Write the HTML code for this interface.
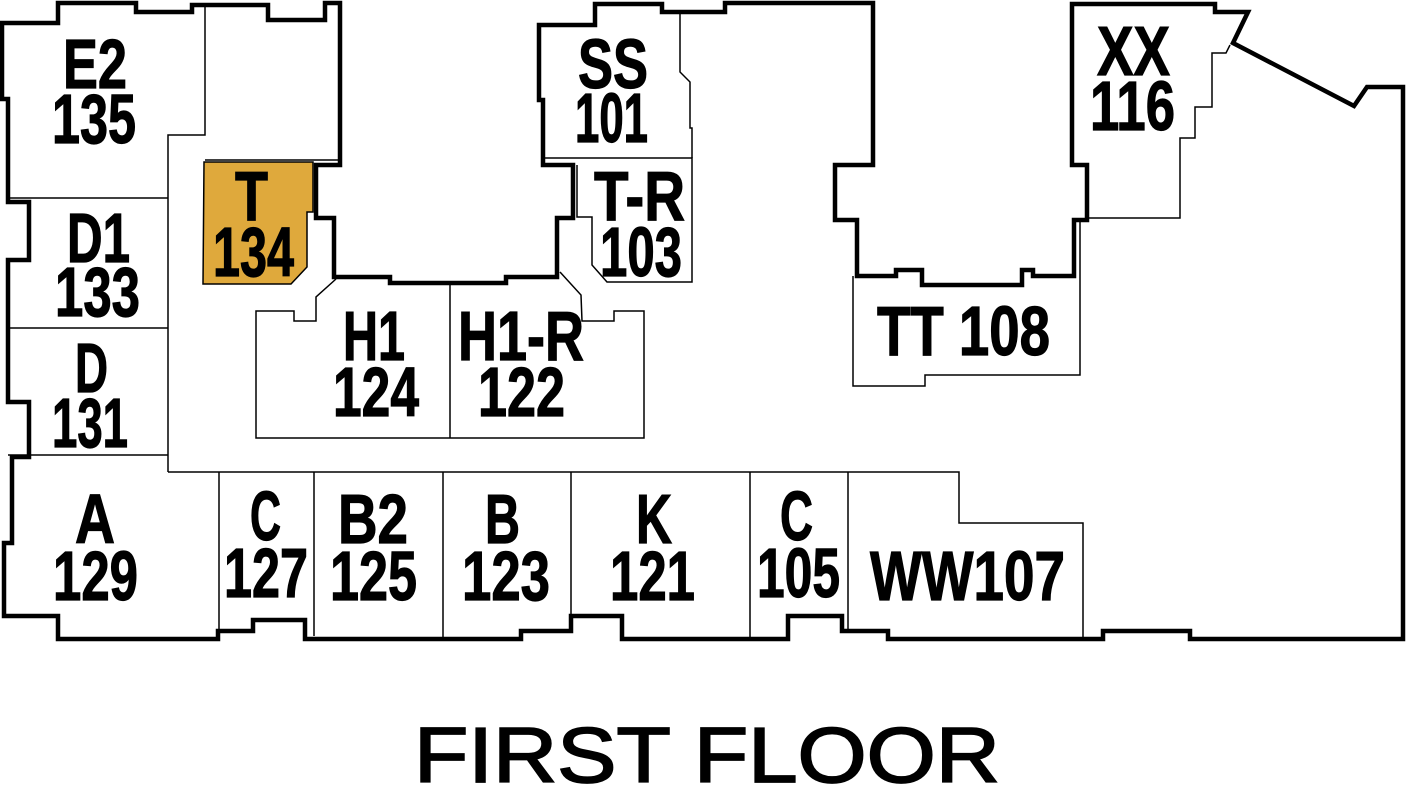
<!DOCTYPE html>
<html><head><meta charset="utf-8"><style>
html,body{margin:0;padding:0;background:#fff;}
svg{display:block;}
.l{font-family:"Liberation Sans",sans-serif;font-weight:bold;font-size:70px;fill:#000;stroke:#000;stroke-width:1.2;}
</style></head><body>
<svg width="1407" height="805" viewBox="0 0 1407 805" xmlns="http://www.w3.org/2000/svg">
<polygon points="204,162 313,162 313,212 307,212 307,267 291,284 203,284" fill="#dfa93c" stroke="#000" stroke-width="1.5"/>
<g fill="none" stroke="#000" stroke-width="1.5">
<polyline points="8,198 168,198"/>
<polyline points="8,328 168,328"/>
<polyline points="8,455 168,455"/>
<polyline points="168,472 168,135 205,135 205,5"/>
<polyline points="205,160 338,160"/>
<polyline points="168,472 959,472 959,523 1083,523 1083,639"/>
<line x1="219" y1="472" x2="219" y2="631"/>
<line x1="314" y1="472" x2="314" y2="636"/>
<line x1="443" y1="472" x2="443" y2="639"/>
<line x1="571" y1="472" x2="571" y2="616"/>
<line x1="750" y1="472" x2="750" y2="639"/>
<line x1="848" y1="472" x2="848" y2="631"/>
<polyline points="336,279 316,297 316,321 294,321 294,311 256,311 256,438 644,438 644,311 614,311 614,321 582,321 581,295 560,272"/>
<line x1="450" y1="285" x2="450" y2="438"/>
<polyline points="543,158 692,158 692,282 607,282 592,265 592,217 577,217 577,165"/>
<polyline points="680,12 680,72 690,82 690,128 692,128 692,158"/>
<polyline points="1230,45 1226,53 1212,53 1212,107 1195,107 1195,138 1180,138 1180,218 1087,218"/>
<polyline points="853,276 853,386 925,386 925,375 1080,375 1080,220"/>
</g>
<polygon fill="none" stroke="#000" stroke-width="4.5" stroke-linejoin="miter" points="
58,3 136,3 136,12 192,12 192,5 268,5 268,20 325,20 325,3 340,3 340,165 316,165 316,218 334,218 334,277 390,277 390,283 506,283 506,277 557,277 557,218 573,218 573,165 543,165 543,100 539,100 539,25 595,25 595,4 662,4 662,12 725,12 725,3 873,3 873,165 835,165 835,220 857,220 857,276 896,276 896,270 922,270 922,285 1022,285 1022,270 1033,270 1033,276 1074,276 1074,220 1087,220 1087,165 1072,165 1072,4 1215,4 1215,12 1248,12 1233,43 1354,106 1367,87 1403,87 1403,639 1190,639 1190,631 1103,631 1103,639 888,639 888,631 842,631 842,616 788,616 788,639 622,639 622,616 571,616 571,631 521,631 521,639 305,639 305,620 253,620 253,631 218,631 218,639 58,639 58,616 4,616 4,543 12,543 12,457 29,457 29,402 8,402 8,260 29,260 29,202 8,202 8,99 2,99 2,23 58,23"/>
<g class="l">
<text x="63" y="88" textLength="64" lengthAdjust="spacingAndGlyphs">E2</text>
<text x="52" y="143" textLength="84" lengthAdjust="spacingAndGlyphs">135</text>
<text x="67" y="262" textLength="63" lengthAdjust="spacingAndGlyphs">D1</text>
<text x="55" y="316" textLength="85" lengthAdjust="spacingAndGlyphs">133</text>
<text x="75" y="392" textLength="33" lengthAdjust="spacingAndGlyphs">D</text>
<text x="52" y="447" textLength="76" lengthAdjust="spacingAndGlyphs">131</text>
<text x="235" y="220" textLength="33" lengthAdjust="spacingAndGlyphs">T</text>
<text x="213" y="276" textLength="81" lengthAdjust="spacingAndGlyphs">134</text>
<text x="578" y="88" textLength="70" lengthAdjust="spacingAndGlyphs">SS</text>
<text x="575" y="142" textLength="73" lengthAdjust="spacingAndGlyphs">101</text>
<text x="594" y="220" textLength="91" lengthAdjust="spacingAndGlyphs">T-R</text>
<text x="600" y="276" textLength="82" lengthAdjust="spacingAndGlyphs">103</text>
<text x="343" y="360" textLength="62" lengthAdjust="spacingAndGlyphs">H1</text>
<text x="333" y="416" textLength="86" lengthAdjust="spacingAndGlyphs">124</text>
<text x="458" y="360" textLength="126" lengthAdjust="spacingAndGlyphs">H1-R</text>
<text x="478" y="416" textLength="87" lengthAdjust="spacingAndGlyphs">122</text>
<text x="1097" y="75" textLength="73" lengthAdjust="spacingAndGlyphs">XX</text>
<text x="1090" y="130" textLength="85" lengthAdjust="spacingAndGlyphs">116</text>
<text x="877" y="355" textLength="173" lengthAdjust="spacingAndGlyphs">TT 108</text>
<text x="75" y="543" textLength="40" lengthAdjust="spacingAndGlyphs">A</text>
<text x="53" y="600" textLength="85" lengthAdjust="spacingAndGlyphs">129</text>
<text x="250" y="540" textLength="31" lengthAdjust="spacingAndGlyphs">C</text>
<text x="224" y="597" textLength="84" lengthAdjust="spacingAndGlyphs">127</text>
<text x="338" y="543" textLength="70" lengthAdjust="spacingAndGlyphs">B2</text>
<text x="330" y="600" textLength="87" lengthAdjust="spacingAndGlyphs">125</text>
<text x="485" y="543" textLength="35" lengthAdjust="spacingAndGlyphs">B</text>
<text x="462" y="600" textLength="88" lengthAdjust="spacingAndGlyphs">123</text>
<text x="636" y="543" textLength="36" lengthAdjust="spacingAndGlyphs">K</text>
<text x="610" y="600" textLength="85" lengthAdjust="spacingAndGlyphs">121</text>
<text x="780" y="540" textLength="33" lengthAdjust="spacingAndGlyphs">C</text>
<text x="757" y="597" textLength="83" lengthAdjust="spacingAndGlyphs">105</text>
<text x="870" y="600" textLength="195" lengthAdjust="spacingAndGlyphs">WW107</text>
</g>
<text x="414" y="782" textLength="586" lengthAdjust="spacingAndGlyphs" style="font-family:'Liberation Sans',sans-serif;font-size:78px;font-weight:normal;fill:#000;stroke:#000;stroke-width:1.8;">FIRST FLOOR</text>
</svg>
</body></html>
